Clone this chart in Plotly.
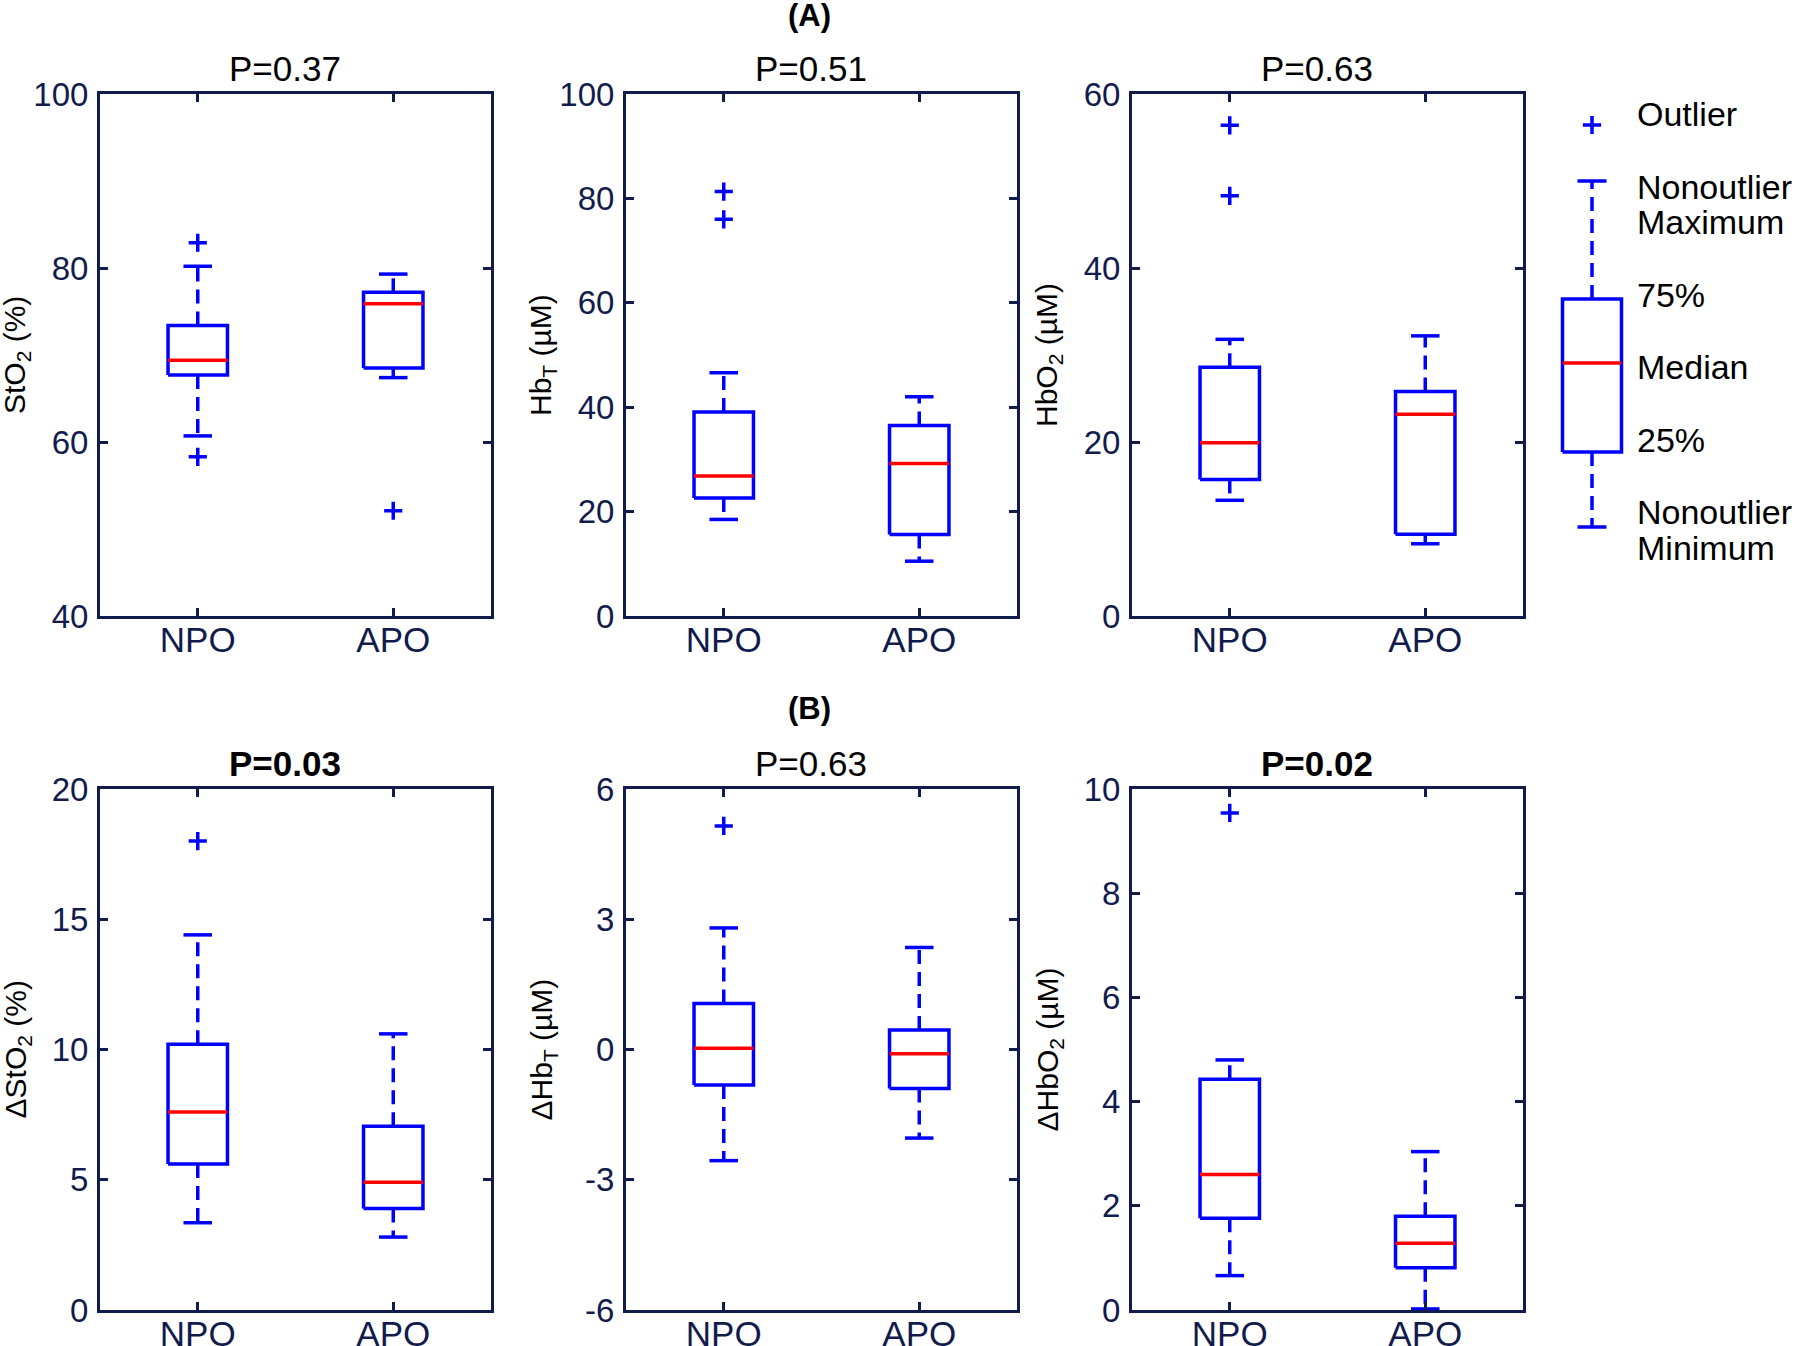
import plotly.graph_objects as go

# ---------------- data ----------------
categories = ["NPO", "APO"]

titles = ["P=0.37", "P=0.51", "P=0.63", "P=0.03", "P=0.63", "P=0.02"]
title_bold = [False, False, False, True, False, True]
ylabels = ["StO<sub>2</sub> (%)", "Hb<sub>T</sub> (µM)", "HbO<sub>2</sub> (µM)",
           "ΔStO<sub>2</sub> (%)", "ΔHb<sub>T</sub> (µM)", "ΔHbO<sub>2</sub> (µM)"]

# per panel: [NPO, APO]
lower_whisker = [[60.7, 67.4], [18.5, 10.5], [13.3, 8.3], [3.35, 2.8], [-2.56, -2.04], [0.66, 0.02]]
q1_values     = [[67.7, 68.5], [22.6, 15.6], [15.7, 9.4], [5.6, 3.9],  [-0.82, -0.9],  [1.76, 0.81]]
median_values = [[69.4, 75.9], [26.8, 29.2], [19.9, 23.2], [7.6, 4.9], [0.03, -0.1],   [2.6, 1.28]]
q3_values     = [[73.4, 77.2], [39.1, 36.5], [28.6, 25.8], [10.2, 7.05], [1.06, 0.45], [4.43, 1.8]]
upper_whisker = [[80.2, 79.3], [46.6, 42.0], [31.8, 32.2], [14.4, 10.6], [2.8, 2.35],  [4.8, 3.04]]
outliers      = [[[82.9, 58.3], [52.1]],
                 [[81.3, 76.0], []],
                 [[56.4, 48.3], []],
                 [[18.0], []],
                 [[5.15], []],
                 [[9.54], []]]

y_ranges = [[40, 100], [0, 100], [0, 60], [0, 20], [-6, 6], [0, 10]]
y_ticks = [[40, 60, 80, 100], [0, 20, 40, 60, 80, 100], [0, 20, 40, 60],
           [0, 5, 10, 15, 20], [-6, -3, 0, 3, 6], [0, 2, 4, 6, 8, 10]]

legend_lines = ["Outlier", "Nonoutlier", "Maximum", "75%", "Median", "25%", "Nonoutlier", "Minimum"]

# ---------------- style ----------------
W, H = 1800, 1346
NAVY = "#111b4c"
BLUE = "#0000ff"
RED = "#ff0000"
FONT = "Liberation Sans, Arial, sans-serif"
LW = 3.5

def px(x):
    return x / W

def py(y):
    return 1 - y / H

col_px = [(100, 491), (626, 1017), (1132, 1523)]
row_px = [(94, 616), (789, 1310)]

BOX_HW = 0.152
CAP_HW = 0.073

fig = go.Figure()


def add_box(xa, ya, c, hw, cw, lo, q1, med, q3, hi, outs):
    common = dict(xaxis=xa, yaxis=ya, mode="lines", showlegend=False, hoverinfo="skip")
    # whiskers (dashed)
    fig.add_trace(go.Scatter(x=[c, c, None, c, c], y=[q3, hi, None, q1, lo],
                             line=dict(color=BLUE, width=LW, dash="14px,8px"), **common))
    # caps
    fig.add_trace(go.Scatter(x=[c - cw, c + cw, None, c - cw, c + cw], y=[hi, hi, None, lo, lo],
                             line=dict(color=BLUE, width=LW), **common))
    # box
    fig.add_trace(go.Scatter(x=[c - hw, c + hw, c + hw, c - hw, c - hw], y=[q1, q1, q3, q3, q1],
                             line=dict(color=BLUE, width=LW), **common))
    # median
    fig.add_trace(go.Scatter(x=[c - hw, c + hw], y=[med, med],
                             line=dict(color=RED, width=LW), **common))
    if outs:
        fig.add_trace(go.Scatter(x=[c] * len(outs), y=outs, mode="markers", xaxis=xa, yaxis=ya,
                                 showlegend=False, hoverinfo="skip", cliponaxis=False,
                                 marker=dict(symbol="cross-thin", size=13, color=BLUE,
                                             line=dict(color=BLUE, width=3.5))))


layout_axes = {}
annotations = []
for i in range(6):
    r, cidx = divmod(i, 3)
    n = i + 1
    xa = "x" if n == 1 else f"x{n}"
    ya = "y" if n == 1 else f"y{n}"
    xkey = "xaxis" if n == 1 else f"xaxis{n}"
    ykey = "yaxis" if n == 1 else f"yaxis{n}"
    x0, x1 = col_px[cidx]
    y0, y1 = row_px[r]
    axis_common = dict(showline=True, linecolor=NAVY, linewidth=3, mirror="ticks",
                       ticks="inside", ticklen=8, tickwidth=3, tickcolor=NAVY,
                       showgrid=False, zeroline=False, fixedrange=True, automargin=False)
    layout_axes[xkey] = dict(domain=[px(x0), px(x1)], range=[0.5, 2.5],
                             tickvals=[1, 2], ticktext=categories, anchor=ya,
                             ticklabelstandoff=-9,
                             tickfont=dict(family=FONT, size=35, color=NAVY), **axis_common)
    layout_axes[ykey] = dict(domain=[py(y1), py(y0)], range=y_ranges[i],
                             tickvals=y_ticks[i], ticktext=[str(v) for v in y_ticks[i]], anchor=xa,
                             ticklabelstandoff=2,
                             tickfont=dict(family=FONT, size=33, color=NAVY), **axis_common)
    for k in range(2):
        add_box(xa, ya, k + 1, BOX_HW, CAP_HW,
                lower_whisker[i][k], q1_values[i][k], median_values[i][k],
                q3_values[i][k], upper_whisker[i][k], outliers[i][k])
    t = f"<b>{titles[i]}</b>" if title_bold[i] else titles[i]
    annotations.append(dict(text=t, x=px((x0 + x1) / 2 - 11), y=py(y0 - 26), xref="paper", yref="paper",
                            xanchor="center", yanchor="middle", showarrow=False,
                            font=dict(family=FONT, size=35, color="black")))
    annotations.append(dict(text=ylabels[i], x=px(x0 - 83), y=py((y0 + y1) / 2),
                            xref="paper", yref="paper", textangle=-90,
                            xanchor="center", yanchor="middle", showarrow=False,
                            font=dict(family=FONT, size=30, color="black")))

# panel headings
annotations.append(dict(text="<b>(A)</b>", x=px(809), y=py(16), xref="paper", yref="paper",
                        showarrow=False, xanchor="center", yanchor="middle",
                        font=dict(family=FONT, size=31, color="black")))
annotations.append(dict(text="<b>(B)</b>", x=px(809), y=py(708), xref="paper", yref="paper",
                        showarrow=False, xanchor="center", yanchor="middle",
                        font=dict(family=FONT, size=31, color="black")))

# legend key on a hidden pixel-space axis restricted to the legend area
LX0, LX1, LY0, LY1 = 1540, 1800, 90, 600
layout_axes["xaxis7"] = dict(domain=[px(LX0), px(LX1)], range=[LX0, LX1], visible=False,
                             fixedrange=True, anchor="y7", automargin=False)
layout_axes["yaxis7"] = dict(domain=[py(LY1), py(LY0)], range=[LY1, LY0], visible=False,
                             fixedrange=True, anchor="x7", automargin=False)
key_x = 1592
key_levels = [125, 181, 299, 363, 452, 527]  # outlier, max, q3, median, q1, min (px)
add_box("x7", "y7", key_x, 29.5, 14.5, key_levels[5], key_levels[4], key_levels[3],
        key_levels[2], key_levels[1], [key_levels[0]])
legend_text_y = [114, 187, 222, 295, 367, 440, 512, 548]
for lab, ly in zip(legend_lines, legend_text_y):
    annotations.append(dict(text=lab, x=px(1635), y=py(ly), xref="paper", yref="paper",
                            xanchor="left", yanchor="middle", align="left", showarrow=False,
                            font=dict(family=FONT, size=34, color="black")))

fig.update_layout(template="none", width=W, height=H, margin=dict(l=0, r=0, t=0, b=0, autoexpand=False),
                  paper_bgcolor="white", plot_bgcolor="rgba(0,0,0,0)",
                  annotations=annotations, showlegend=False, **layout_axes)

fig.write_html("out.html", config={"displayModeBar": False},
               post_script="document.body.style.margin='0';document.body.style.overflow='hidden';")
